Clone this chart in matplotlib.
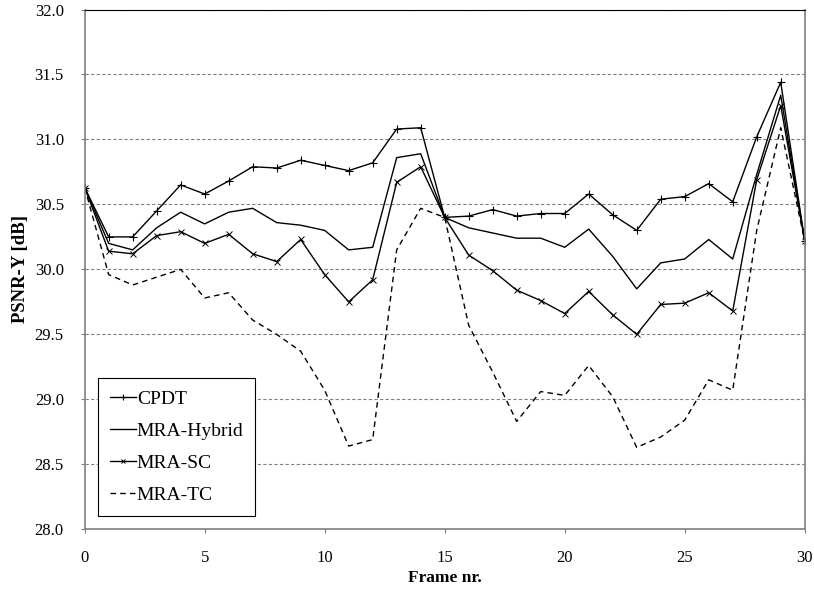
"""PSNR-Y per frame for CPDT and the three MRA variants."""
import matplotlib
matplotlib.use("Agg")
import matplotlib.pyplot as plt  # noqa: E402
import numpy as np  # noqa: E402

frames = np.arange(31)
cpdt = [30.63, 30.25, 30.25, 30.45, 30.65, 30.58, 30.68, 30.79, 30.78, 30.84,
        30.80, 30.76, 30.82, 31.08, 31.09, 30.40, 30.41, 30.46, 30.41, 30.43,
        30.43, 30.58, 30.42, 30.30, 30.54, 30.56, 30.66, 30.52, 31.02, 31.44,
        30.22]
hybrid = [30.63, 30.20, 30.15, 30.32, 30.44, 30.35, 30.44, 30.47, 30.36, 30.34,
          30.30, 30.15, 30.17, 30.86, 30.89, 30.40, 30.32, 30.28, 30.24, 30.24,
          30.17, 30.31, 30.10, 29.85, 30.05, 30.08, 30.23, 30.08, 30.73, 31.34,
          30.22]
sc = [30.63, 30.14, 30.12, 30.26, 30.29, 30.20, 30.27, 30.12, 30.06, 30.23,
      29.96, 29.75, 29.92, 30.67, 30.79, 30.40, 30.11, 29.99, 29.84, 29.76,
      29.66, 29.83, 29.65, 29.50, 29.73, 29.74, 29.82, 29.68, 30.69, 31.26,
      30.22]
tc = [30.63, 29.96, 29.88, 29.94, 30.00, 29.78, 29.82, 29.61, 29.50, 29.37,
      29.07, 28.64, 28.69, 30.15, 30.47, 30.40, 29.57, 29.21, 28.83, 29.06,
      29.03, 29.26, 29.02, 28.63, 28.71, 28.84, 29.15, 29.07, 30.30, 31.09,
      30.22]

plt.rcParams.update({"font.family": ["Liberation Serif", "DejaVu Serif"],
                     "font.size": 11})
GREY = "#808080"

fig = plt.figure(figsize=(8.14, 5.94), dpi=100)
ax = fig.add_axes([0.104, 0.109, 0.8846, 0.875])

ax.plot(frames, cpdt, color="black", lw=1.0, marker="+", ms=5.5, mew=0.8,
        label="CPDT")
ax.plot(frames, hybrid, color="black", lw=1.0, label="MRA-Hybrid")
ax.plot(frames, sc, color="black", lw=1.0, marker="x", ms=4.5, mew=0.7,
        label="MRA-SC")
ax.plot(frames, tc, color="black", lw=1.0, ls=(0, (4, 3)), label="MRA-TC")

ax.set_xlim(0, 30)
ax.set_ylim(28, 32)
ax.set_xticks(range(0, 31, 5))
yt = np.arange(28, 32.01, 0.5)
ax.set_yticks(yt)
ax.set_yticklabels([f"{v:.1f}" for v in yt])
ax.yaxis.grid(True, color=GREY, ls=(0, (3, 2)), lw=0.8)
ax.set_axisbelow(True)
ax.tick_params(axis="y", direction="out", length=3, color=GREY, labelsize=12,
               pad=12)
ax.tick_params(axis="x", direction="out", length=3, color=GREY, labelsize=12,
               pad=12)
for sp in ("left", "bottom", "right"):
    ax.spines[sp].set_color(GREY)
    ax.spines[sp].set_linewidth(1.2)
ax.spines["top"].set_color("black")
ax.spines["top"].set_linewidth(0.8)

ax.set_xlabel("Frame nr.", fontweight="bold", fontsize=12.5, labelpad=3)
ax.set_ylabel("PSNR-Y [dB]", fontweight="bold", fontsize=13.5, labelpad=4)

leg = ax.legend(loc="lower left", bbox_to_anchor=(0.0185, 0.0256),
                borderaxespad=0, fontsize=14, fancybox=False,
                edgecolor="black", framealpha=1, handlelength=1.35,
                handletextpad=0.05, labelspacing=0.75, borderpad=0.6,
                markerscale=0.7)
leg.get_frame().set_linewidth(0.8)

fig.savefig("out.png", dpi=100)
